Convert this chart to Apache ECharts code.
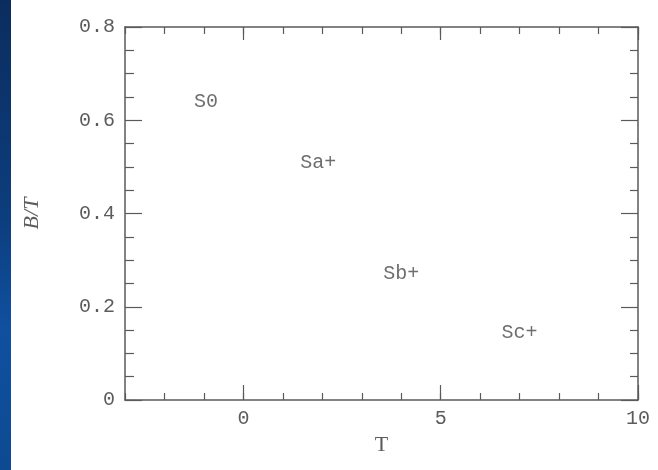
<!DOCTYPE html>
<html>
<head>
<meta charset="utf-8">
<script src="https://cdn.jsdelivr.net/npm/echarts@6/dist/echarts.min.js"></script>
<style>
  html, body { margin: 0; padding: 0; background: #fff; }
  #strip {
    position: absolute; left: 0; top: 0; width: 11px; height: 470px;
    background: linear-gradient(180deg, #0b2d5e 0%, #0c3d7c 45%, #1050a0 70%, #0d4a92 100%);
  }
  #main { position: absolute; left: 0; top: 0; width: 658px; height: 470px; }
</style>
</head>
<body>
<div id="strip"></div>
<div id="main"></div>
<script>
// region labels (galaxy types) placed in T vs B/T
const typeNames = ['S0', 'Sa+', 'Sb+', 'Sc+']
const tValues = [-0.95, 1.9, 4.0, 7.0]
const btValues = [0.64, 0.51, 0.27, 0.145]

const xMajor = [0, 5, 10]
const axisColor = '#5a5a5a'
const textColor = '#5c5c5c'
const monoFont = 'Liberation Mono'

const gridRect = { left: 125, top: 27, right: 20, bottom: 70 }

var myChart = echarts.init(document.getElementById('main'))

function xAxisBase(gridIndex, position) {
  return {
    type: 'value', gridIndex: gridIndex, position: position,
    min: -3, max: 10, interval: 1,
    splitLine: { show: false },
  }
}

var option = {
  animation: false,
  grid: [
    Object.assign({}, gridRect),
    Object.assign({}, gridRect),
  ],
  xAxis: [
    // grid 0: axis lines, minor (unit) ticks, labels
    Object.assign(xAxisBase(0, 'bottom'), {
      name: 'T', nameLocation: 'middle', nameGap: 34,
      nameTextStyle: { fontFamily: 'Liberation Serif', fontSize: 22, color: textColor },
      axisLine: { show: true, onZero: false, lineStyle: { color: axisColor, width: 1.5 } },
      axisTick: { inside: true, length: 7, lineStyle: { color: axisColor, width: 1.2 } },
      axisLabel: {
        customValues: xMajor, margin: 9,
        fontFamily: monoFont, fontSize: 20, color: textColor
      }
    }),
    Object.assign(xAxisBase(0, 'top'), {
      axisLine: { show: true, onZero: false, lineStyle: { color: axisColor, width: 1.5 } },
      axisTick: { inside: true, length: 7, lineStyle: { color: axisColor, width: 1.2 } },
      axisLabel: { show: false }
    }),
    // grid 1: long ticks at 0, 5, 10
    Object.assign(xAxisBase(1, 'bottom'), {
      axisLine: { show: false },
      axisTick: { inside: true, length: 15, customValues: xMajor, lineStyle: { color: axisColor, width: 1.2 } },
      axisLabel: { show: false }
    }),
    Object.assign(xAxisBase(1, 'top'), {
      axisLine: { show: false },
      axisTick: { inside: true, length: 13, customValues: xMajor, lineStyle: { color: axisColor, width: 1.2 } },
      axisLabel: { show: false }
    }),
  ],
  yAxis: [
    {
      type: 'value', gridIndex: 0, position: 'left',
      min: 0, max: 0.8, interval: 0.2,
      name: 'B/T', nameLocation: 'middle', nameGap: 82,
      nameTextStyle: { fontFamily: 'Liberation Serif', fontStyle: 'italic', fontSize: 22, color: textColor },
      axisLine: { show: true, onZero: false, lineStyle: { color: axisColor, width: 1.5 } },
      axisTick: { inside: true, length: 17, lineStyle: { color: axisColor, width: 1.2 } },
      minorTick: { show: true, splitNumber: 4, length: 9, lineStyle: { color: axisColor, width: 1.2 } },
      splitLine: { show: false },
      axisLabel: {
        margin: 10, fontFamily: monoFont, fontSize: 20, color: textColor,
        formatter: (v) => v == 0 ? '0' : v.toFixed(1)
      }
    },
    {
      type: 'value', gridIndex: 0, position: 'right',
      min: 0, max: 0.8, interval: 0.2,
      axisLine: { show: true, onZero: false, lineStyle: { color: axisColor, width: 1.5 } },
      axisTick: { inside: true, length: 17, lineStyle: { color: axisColor, width: 1.2 } },
      minorTick: { show: true, splitNumber: 4, length: 8, lineStyle: { color: axisColor, width: 1.2 } },
      splitLine: { show: false },
      axisLabel: { show: false }
    },
    {
      type: 'value', gridIndex: 1, min: 0, max: 0.8, show: false
    },
  ],
  series: [{
    type: 'scatter',
    xAxisIndex: 0,
    yAxisIndex: 0,
    symbolSize: 1,
    itemStyle: { color: 'rgba(0,0,0,0)' },
    data: tValues.map((t, i) => ({ value: [t, btValues[i]], name: typeNames[i] })),
    label: {
      show: true,
      position: 'inside',
      formatter: (p) => p.name,
      fontFamily: monoFont,
      fontSize: 20,
      color: '#4a4a4a'
    },
    silent: true
  }]
}

myChart.setOption(option)
</script>
</body>
</html>
